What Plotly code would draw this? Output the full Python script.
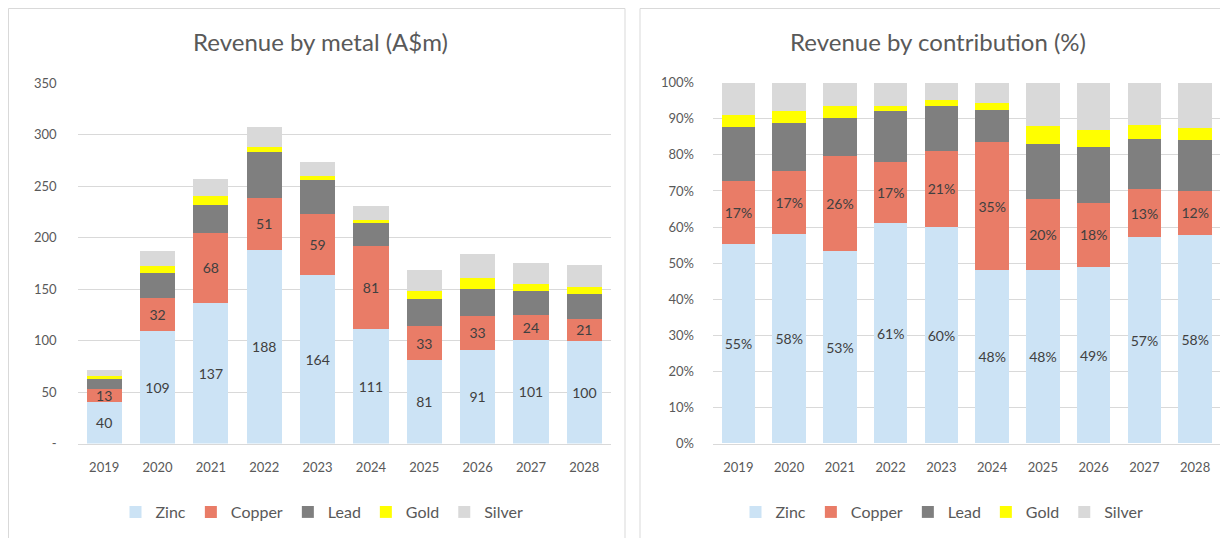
import plotly.graph_objects as go

years = ["2019", "2020", "2021", "2022", "2023", "2024", "2025", "2026", "2027", "2028"]
metals = ["Zinc", "Copper", "Lead", "Gold", "Silver"]

# Revenue by metal (A$m)
zinc_m = [40, 109, 137, 188, 164, 111, 81, 91, 101, 100]
copper_m = [13, 32, 68, 51, 59, 81, 33, 33, 24, 21]
lead_m = [9.5, 24.5, 27, 44, 33, 22, 26, 26.5, 23.5, 24]
gold_m = [3.5, 7, 8.5, 5, 4, 3.5, 8.5, 10.5, 6.5, 7]
silver_m = [5.5, 15, 17, 20, 13.5, 13.5, 20, 23.5, 20, 21.5]

# Revenue by contribution (%)
zinc_p = [55.4, 58.1, 53.3, 61.0, 60.1, 48.1, 48.1, 49.0, 57.1, 57.7]
copper_p = [17.3, 17.4, 26.4, 16.9, 21.0, 35.4, 19.6, 17.7, 13.4, 12.4]
lead_p = [14.9, 13.2, 10.6, 14.2, 12.5, 9.0, 15.4, 15.4, 13.9, 13.9]
gold_p = [3.4, 3.4, 3.3, 1.5, 1.5, 1.9, 4.9, 4.9, 3.9, 3.5]
silver_p = [9.0, 7.9, 6.4, 6.4, 4.9, 5.6, 12.0, 13.0, 11.7, 12.5]

left_tickvals = [0, 50, 100, 150, 200, 250, 300, 350]
left_ticktext = ["-", "50", "100", "150", "200", "250", "300", "350"]
right_tickvals = [0, 10, 20, 30, 40, 50, 60, 70, 80, 90, 100]
right_ticktext = ["0%", "10%", "20%", "30%", "40%", "50%", "60%", "70%", "80%", "90%", "100%"]

colors = ["#CCE3F5", "#E97C67", "#7F7F7F", "#FFFF00", "#D9D9D9"]
FONT = "Lato, 'Open Sans', sans-serif"
TXT = "#595959"
LBL = "#404040"
OFF = 8  # page body margin
W, H = 1228 - OFF, 538 - OFF

fig = go.Figure()

left_series = [zinc_m, copper_m, lead_m, gold_m, silver_m]
right_series = [zinc_p, copper_p, lead_p, gold_p, silver_p]

for i, (name, vals) in enumerate(zip(metals, left_series)):
    labelled = i < 2
    fig.add_trace(go.Bar(
        x=years, y=vals, name=name, marker_color=colors[i],
        marker_line_width=0,
        xaxis="x", yaxis="y", legend="legend",
        texttemplate="%{y:.0f}" if labelled else None,
        textposition="inside" if labelled else "none",
        insidetextanchor="middle", textangle=0,
        textfont=dict(color=LBL, size=14, family=FONT),
    ))

for i, (name, vals) in enumerate(zip(metals, right_series)):
    labelled = i < 2
    fig.add_trace(go.Bar(
        x=years, y=vals, name=name, marker_color=colors[i],
        marker_line_width=0,
        xaxis="x2", yaxis="y2", legend="legend2",
        texttemplate="%{y:.0f}%" if labelled else None,
        textposition="inside" if labelled else "none",
        insidetextanchor="middle", textangle=0,
        textfont=dict(color=LBL, size=14, family=FONT),
    ))


def px_x(p):
    return (p - OFF) / W


def px_y(p):
    return 1 - (p - OFF) / H


grid = "#D9D9D9"
fig.update_layout(
    template="none",
    width=W, height=H, autosize=False,
    margin=dict(l=0, r=0, t=0, b=0, pad=0, autoexpand=False),
    paper_bgcolor="white", plot_bgcolor="white",
    barmode="stack", bargap=0.34,
    font=dict(family=FONT, color=TXT, size=13),
    uniformtext=dict(minsize=14, mode="show"),
    showlegend=True,
    xaxis=dict(domain=[px_x(77.5), px_x(611)], anchor="y", type="category",
               showgrid=False, showline=True, linecolor=grid, linewidth=1,
               ticks="", tickfont=dict(size=13, color=TXT), ticklabelstandoff=12,
               automargin=False),
    yaxis=dict(domain=[px_y(443.5), px_y(83.3)], anchor="x", range=[0, 350],
               tickmode="array", tickvals=left_tickvals, ticktext=left_ticktext,
               showgrid=True, gridcolor=grid, gridwidth=1, zeroline=False,
               showline=False, ticks="", tickfont=dict(size=13, color=TXT),
               ticklabelstandoff=20, automargin=False),
    xaxis2=dict(domain=[px_x(713), px_x(1220.5)], anchor="y2", type="category",
                showgrid=False, showline=True, linecolor=grid, linewidth=1,
                ticks="", tickfont=dict(size=13, color=TXT), ticklabelstandoff=12,
                automargin=False),
    yaxis2=dict(domain=[px_y(443.5), px_y(82.7)], anchor="x2", range=[0, 100],
                tickmode="array", tickvals=right_tickvals, ticktext=right_ticktext,
                showgrid=True, gridcolor=grid, gridwidth=1, zeroline=False,
                showline=False, ticks="", tickfont=dict(size=13, color=TXT),
                ticklabelstandoff=18, automargin=False),
    legend=dict(orientation="h", x=px_x(322), xanchor="center", y=px_y(512),
                yanchor="middle", font=dict(size=16, color=TXT), traceorder="normal",
                itemwidth=30, tracegroupgap=0, bgcolor="rgba(0,0,0,0)"),
    legend2=dict(orientation="h", x=px_x(942), xanchor="center", y=px_y(512),
                 yanchor="middle", font=dict(size=16, color=TXT), traceorder="normal",
                 itemwidth=30, tracegroupgap=0, bgcolor="rgba(0,0,0,0)"),
    annotations=[
        dict(text="Revenue by metal (A$m)", x=px_x(321), y=px_y(42), xref="paper",
             yref="paper", showarrow=False, xanchor="center", yanchor="middle",
             font=dict(size=24, color=TXT)),
        dict(text="Revenue by contribution (%)", x=px_x(938), y=px_y(42), xref="paper",
             yref="paper", showarrow=False, xanchor="center", yanchor="middle",
             font=dict(size=24, color=TXT)),
    ],
    shapes=[
        dict(type="rect", xref="paper", yref="paper", x0=px_x(8.5), x1=px_x(625),
             y0=px_y(545), y1=px_y(8.5), line=dict(color=grid, width=1)),
        dict(type="rect", xref="paper", yref="paper", x0=px_x(640), x1=px_x(1240),
             y0=px_y(545), y1=px_y(8.5), line=dict(color=grid, width=1)),
    ],
)

fig.write_html("out.html")
